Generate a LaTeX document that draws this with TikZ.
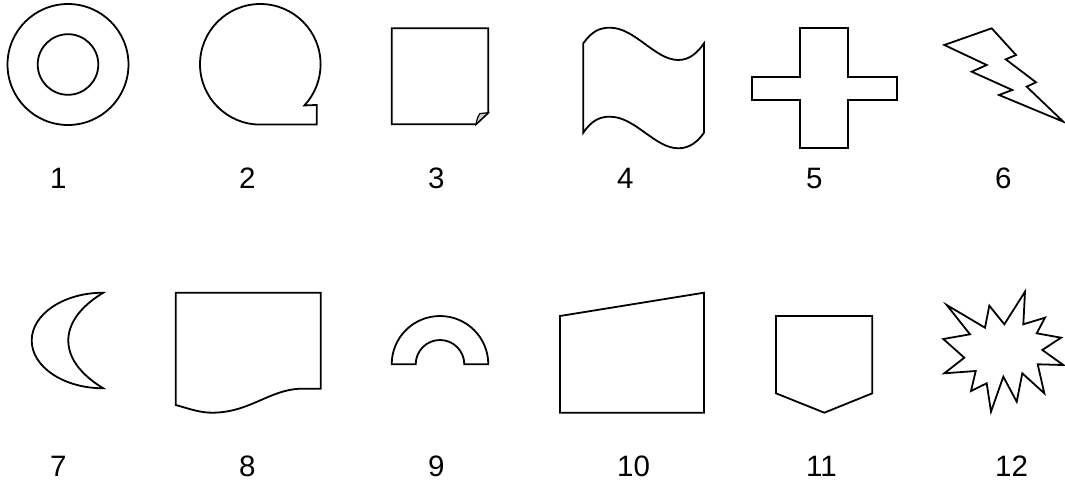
\documentclass[tikz,border=0pt]{standalone}
\usepackage{fontspec}
\setmainfont{Liberation Sans}
\usepackage{tikz}
\tikzset{
    shp/.style={draw, line width=1.8pt, line join=miter},
    curl/.style={draw, line width=1.2pt, fill=gray!40},
    num/.style={anchor=base west, inner sep=0pt, font=\fontsize{29.5}{30}\selectfont},
}

\begin{document}
\begin{tikzpicture}[x=1pt, y=-1pt]
        \useasboundingbox (0,0) rectangle (1065,484);

        % Erste Reihe
        \draw[shp] (68,64.5) circle[radius=60.5];
        \draw[shp] (68,64.5) circle[radius=30.3];

        \draw[shp] (260.3,124.6) arc[start angle=90, end angle=403, radius=60.3]
            -- (316.7,105) -- (316.7,124.6) -- cycle;

        \draw[shp] (391.7,28.3) -- (488.3,28.3) -- (488.3,112.7) -- (476,124.3)
            -- (391.7,124.3) -- cycle;
        \draw[curl] (476,124.3) .. controls (477.3,118) .. (479.8,113.6) -- (488.3,112.7) -- cycle;

        \draw[shp] (583.3,43.3) .. controls (592,31) and (600,27.7) .. (610,27.7)
            .. controls (635,27.7) and (655,60) .. (678.3,60)
            .. controls (690,60) and (698,52) .. (704,43.3)
            -- (704,132.7)
            .. controls (698,141.3) and (690,148.3) .. (678.3,148.3)
            .. controls (655,148.3) and (635,116.7) .. (610,116.7)
            .. controls (600,116.7) and (592,120) .. (583.3,132.7) -- cycle;

        \draw[shp] (800,28.3) -- (848.3,28.3) -- (848.3,76.7) -- (896.7,76.7) -- (896.7,100)
            -- (848.3,100) -- (848.3,148.3) -- (800,148.3) -- (800,100) -- (751.7,100)
            -- (751.7,76.7) -- (800,76.7) -- cycle;

        \draw[shp] (944.3,45) -- (991.7,28.3) -- (1016,55) -- (1005.7,59.3) -- (1036,82.3)
            -- (1026.7,86.7) -- (1063.3,121.7) -- (999,95) -- (1012.3,90) -- (971.7,71.7)
            -- (986.7,65) -- cycle;

        % Zweite Reihe
        \draw[shp] (103.3,292.7) arc[start angle=270, end angle=90, x radius=71.6, y radius=47.8]
            .. controls (78,373) and (68.3,356) .. (68.3,340.5)
            .. controls (68.3,325) and (78,308) .. cycle;

        \draw[shp] (175.7,292.7) -- (320.7,292.7) -- (320.7,388.7) -- (301.7,388.7)
            .. controls (270,389) and (250,412.7) .. (212,412.7)
            .. controls (200,412.7) and (190,409) .. (175.7,405) -- cycle;

        \draw[shp] (391.7,364.3) arc[start angle=180, end angle=360, radius=48.3]
            -- (464.3,364.3) arc[start angle=360, end angle=180, radius=24.3] -- cycle;

        \draw[shp] (560,316) -- (704,292.7) -- (704,412.7) -- (560,412.7) -- cycle;

        \draw[shp] (776,316) -- (872.3,316) -- (872.3,393.3) -- (824.3,412.7) -- (776,393.3) -- cycle;

        \draw[shp] (1025,291.7) -- (1023.3,324.3) -- (1045,317.7) -- (1036.7,333.3) -- (1061,337.7)
            -- (1042.3,350) -- (1063.3,365) -- (1037.7,364.3) -- (1044.3,393.3) -- (1022.3,373.3)
            -- (1016.7,401.7) -- (1003.3,376.7) -- (991,411.7) -- (986.7,383.3) -- (971,391)
            -- (975.7,371) -- (944.3,373.3) -- (964.3,357.7) -- (943.3,339) -- (970,334.3)
            -- (946.7,305) -- (985,327.7) -- (989.3,305.7) -- (1004.3,324.3) -- cycle;

        % Nummern
        \foreach \t/\x in {1/50,2/239,3/428,4/617,5/806,6/995} {
            \node[num] (lbl\t) at (\x,188.3) {\t};
        }
        \foreach \t/\x in {7/50,8/239,9/428,10/617,11/806,12/995} {
            \node[num] (lbl\t) at (\x,476) {\t};
        }
    \end{tikzpicture}
\end{document}
